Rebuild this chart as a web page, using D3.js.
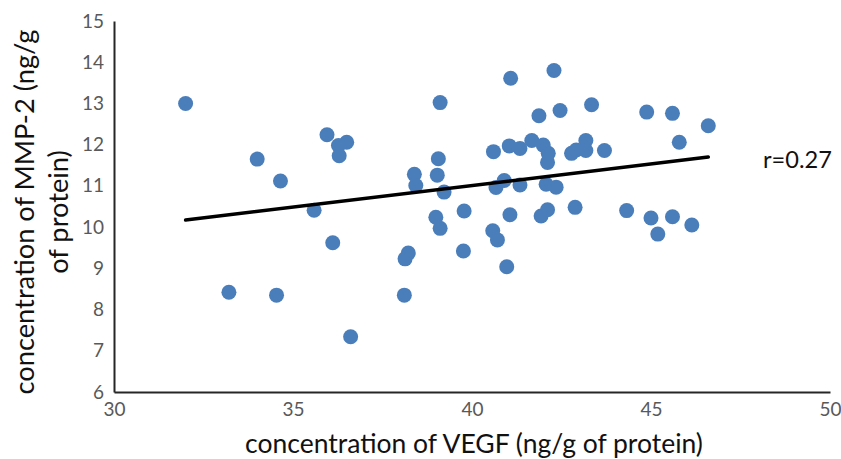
<!DOCTYPE html>
<html>
<head>
<meta charset="utf-8">
<script src="https://cdn.jsdelivr.net/npm/d3@7"></script>
<style>
  html, body { margin: 0; padding: 0; background: #fff; }
  svg { display: block; }
</style>
</head>
<body>
<svg id="chart" width="841" height="459"></svg>
<script>
// ---- data ----
const vegf = [32.0, 33.21, 34.0, 34.54, 34.65, 35.59, 35.95, 36.11, 36.27, 36.29, 36.5, 36.61,
  38.11, 38.13, 38.22, 38.39, 38.43, 38.99, 39.03, 39.06, 39.11, 39.11, 39.22, 39.76, 39.78,
  40.58, 40.60, 40.67, 40.71, 40.90, 40.97, 41.04, 41.06, 41.08, 41.34, 41.34, 41.67, 41.87,
  41.93, 41.99, 42.07, 42.11, 42.11, 42.13, 42.29, 42.35, 42.46, 42.78, 42.88, 42.91, 43.18,
  43.18, 43.34, 43.70, 44.32, 44.88, 45.0, 45.19, 45.60, 45.60, 45.79, 46.14, 46.60];
const mmp2 = [13.0, 8.42, 11.65, 8.35, 11.12, 10.41, 12.24, 9.62, 11.98, 11.73, 12.06, 7.34,
  8.35, 9.23, 9.37, 11.28, 11.01, 10.24, 11.26, 11.66, 13.02, 9.97, 10.85, 9.42, 10.39,
  9.91, 11.83, 10.96, 9.69, 11.13, 9.04, 11.97, 10.30, 13.61, 11.91, 11.02, 12.10, 12.70,
  10.27, 11.99, 11.04, 11.57, 10.42, 11.79, 13.80, 10.97, 12.83, 11.79, 10.48, 11.87, 12.10,
  11.86, 12.97, 11.86, 10.40, 12.79, 10.22, 9.83, 12.76, 10.25, 12.06, 10.05, 12.46];
const trendX = [32.0, 46.6];
const trendY = [10.17, 11.70];
const xTicks = [30, 35, 40, 45, 50];
const yTicks = [6, 7, 8, 9, 10, 11, 12, 13, 14, 15];
const xTitle = "concentration of VEGF (ng/g of protein)";
const yTitleLines = ["concentration of MMP-2 (ng/g", "of protein)"];
const rLabel = "r=0.27";

// ---- drawing ----
const svg = d3.select("#chart");
const FONT = "Lato, 'Open Sans', sans-serif";

const x = d3.scaleLinear().domain([30, 50]).range([114, 830]);
const y = d3.scaleLinear().domain([6, 15]).range([392, 21]);

function fit(sel, target) {
  const base = parseFloat(sel.attr("font-size"));
  const w = sel.node().getComputedTextLength();
  sel.attr("font-size", base * target / w);
}

// y axis
const gy = svg.append("g").attr("transform", `translate(${x(30)},0)`)
  .call(d3.axisLeft(y).tickValues(yTicks).tickSize(0).tickPadding(10).tickFormat(d3.format("d")));
gy.select(".domain").attr("stroke", "#262626").attr("stroke-width", 2);
gy.selectAll("text").attr("font-family", FONT).attr("font-size", 19).attr("fill", "#595959");

// x axis
const gx = svg.append("g").attr("transform", `translate(0,${y(6)})`)
  .call(d3.axisBottom(x).tickValues(xTicks).tickSize(0).tickPadding(11).tickFormat(d3.format("d")));
gx.select(".domain").attr("stroke", "#262626").attr("stroke-width", 2);
gx.selectAll("text").attr("font-family", FONT).attr("font-size", 19).attr("fill", "#595959");

// points
const pts = vegf.map((v, i) => ({ x: v, y: mmp2[i] }));
svg.append("g").selectAll("circle").data(pts).join("circle")
  .attr("cx", d => x(d.x)).attr("cy", d => y(d.y)).attr("r", 7.5)
  .attr("fill", "#4a7ebb");

// trendline
const line = d3.line().x(d => x(d[0])).y(d => y(d[1]));
svg.append("path").datum(trendX.map((v, i) => [v, trendY[i]]))
  .attr("d", line).attr("stroke", "#000").attr("stroke-width", 3.5)
  .attr("fill", "none").attr("stroke-linecap", "round");

// r label
const rt = svg.append("text").attr("x", 763).attr("y", 168)
  .attr("font-family", FONT).attr("font-size", 24).attr("fill", "#111").text(rLabel);
fit(rt, 69);

// x title
const xt = svg.append("text").attr("x", 474).attr("y", 453).attr("text-anchor", "middle")
  .attr("font-family", FONT).attr("font-size", 26).attr("fill", "#111").text(xTitle);
fit(xt, 458);

// y title (two lines rotated)
const yt = svg.append("g").attr("transform", "translate(0,212) rotate(-90)");
const l1 = yt.append("text").attr("x", 0).attr("y", 34).attr("text-anchor", "middle")
  .attr("font-family", FONT).attr("font-size", 26).attr("fill", "#111").text(yTitleLines[0]);
fit(l1, 365);
const l2 = yt.append("text").attr("x", 0).attr("y", 68).attr("text-anchor", "middle")
  .attr("font-family", FONT).attr("font-size", parseFloat(l1.attr("font-size")))
  .attr("fill", "#111").text(yTitleLines[1]);
</script>
</body>
</html>
